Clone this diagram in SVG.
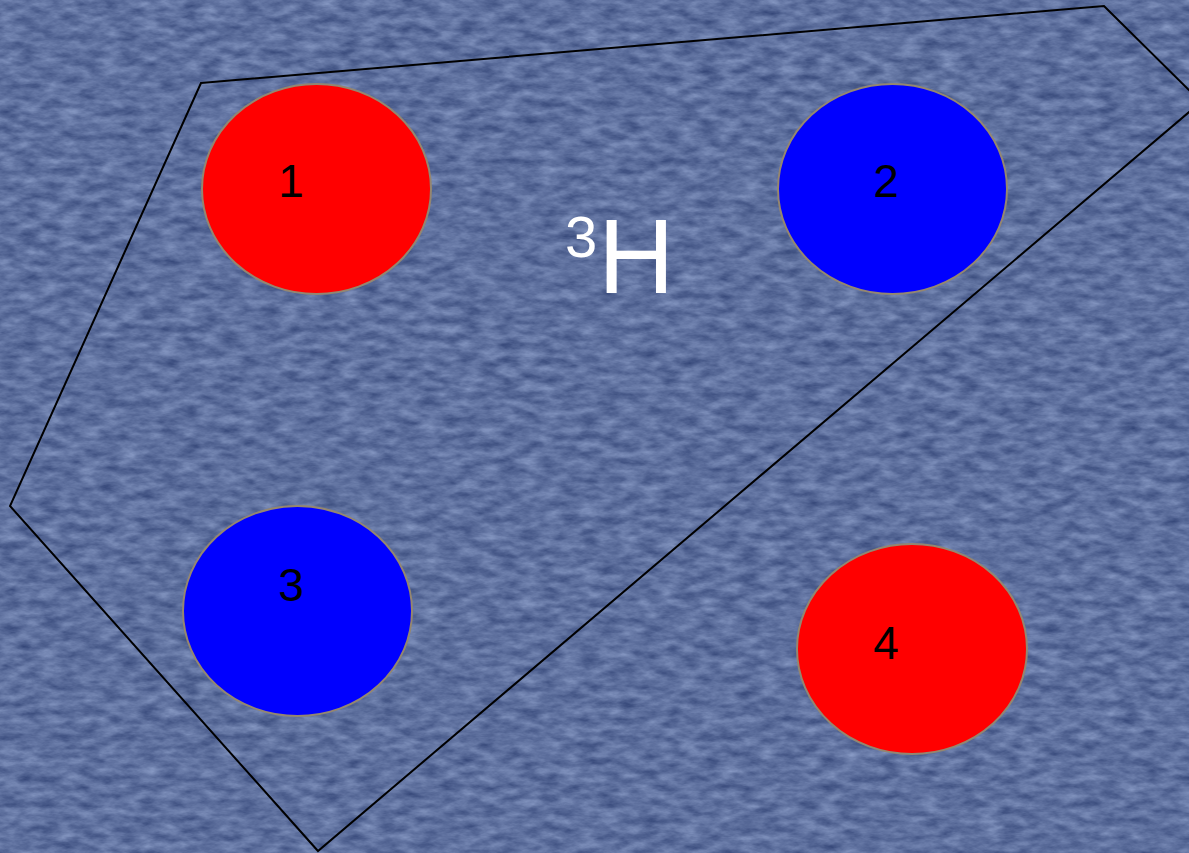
<svg xmlns="http://www.w3.org/2000/svg" width="1189" height="853" viewBox="0 0 1189 853">
<defs>
<style>
.node{stroke:#948670;stroke-width:2}
.red{fill:#ff0000}
.blue{fill:#0000ff}
.lbl{font-family:"Liberation Sans",Arial,sans-serif;font-size:46px;fill:#000;text-anchor:middle}
.title{font-family:"Liberation Sans",Arial,sans-serif;fill:#fff}
</style>
<filter id="tex" x="0" y="0" width="100%" height="100%" color-interpolation-filters="sRGB">
<feTurbulence type="fractalNoise" baseFrequency="0.05 0.12" numOctaves="4" seed="7" result="n"/>
<feColorMatrix in="n" type="matrix" values="0.36 0 0 0 0.19  0.36 0 0 0 0.26  0.33 0 0 0 0.455  0 0 0 0 1"/>
</filter>
</defs>
<rect width="1189" height="853" fill="#5f719d"/>
<rect width="1189" height="853" filter="url(#tex)"/>
<g id="connectors">
<polygon points="201,83 1104,6 1201,102 318,851 10,506" fill="none" stroke="#000" stroke-width="2"/>
</g>
<g id="title">
<text class="title" x="565" y="257" font-size="58">3</text>
<text class="title" x="598" y="293" font-size="106">H</text>
</g>
<g id="node1">
<ellipse class="node red" cx="316.5" cy="189" rx="114.5" ry="105"/>
<text class="lbl" x="291" y="197">1</text>
</g>
<g id="node2">
<ellipse class="node blue" cx="892.5" cy="189" rx="114.5" ry="105"/>
<text class="lbl" x="886" y="197">2</text>
</g>
<g id="node3">
<ellipse class="node blue" cx="297.5" cy="611" rx="114.5" ry="105"/>
<text class="lbl" x="291" y="601">3</text>
</g>
<g id="node4">
<ellipse class="node red" cx="912" cy="649" rx="115" ry="105"/>
<text class="lbl" x="886" y="659">4</text>
</g>
</svg>
